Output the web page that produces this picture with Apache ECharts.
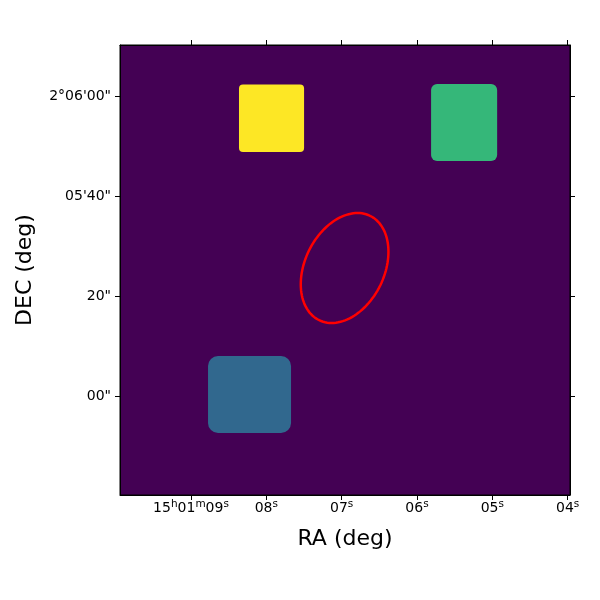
<!DOCTYPE html>
<html>
<head>
<meta charset="utf-8">
<script src="https://cdn.jsdelivr.net/npm/echarts@6/dist/echarts.min.js"></script>
<style>
html,body{margin:0;padding:0;background:#fff;}
#chart{width:600px;height:600px;}
</style>
</head>
<body>
<div id="chart"></div>
<script>
// RA in seconds of 15h01m, DEC in arcsec offset from +2°05'00"
var raTicks = [9, 8, 7, 6, 5, 4];
var raTickLabels = ['{n|15}{s|h}{n|01}{s|m}{n|09}{s|s}', '{n|08}{s|s}', '{n|07}{s|s}', '{n|06}{s|s}', '{n|05}{s|s}', '{n|04}{s|s}'];
var decTicks = [0, 20, 40, 60];
var decTickLabels = ['00"', '20"', '05\'40"', '2\u00b006\'00"'];

// sources: RA (s) east edge, west edge, DEC (") south edge, north edge, pixel value
var srcRaEast  = [8.363, 5.813, 8.774];
var srcRaWest  = [7.499, 4.936, 7.672];
var srcDecSouth = [48.8, 47.0, -7.4];
var srcDecNorth = [62.3, 62.4, 8.0];
var srcValue   = [1.0, 0.7, 0.35];

// ellipse region: center RA (s), DEC ("), semi-major ("), semi-minor ("), PA (deg, N through E)
var ellCenter = [6.961, 25.6];
var ellAxes = [11.6, 7.9];
var ellPA = -25.8;

var decDeg = 2.0833;
var srcColors = {1.0: '#fde725', 0.7: '#35b779', 0.35: '#31688e'};
var srcCorner = [4, 6, 10];

var chart = echarts.init(document.getElementById('chart'), null, {renderer: 'canvas'});

var srcData = srcValue.map(function (v, i) {
  return [srcRaEast[i], srcRaWest[i], srcDecSouth[i], srcDecNorth[i], v, i];
});

var font = 'DejaVu Sans';
function axisCommon(showLabel, labelArr, ticks) {
  return {
    type: 'value',
    axisLine: {show: true, onZero: false, lineStyle: {color: '#000', width: 1}},
    axisTick: {show: true, inside: false, length: 5, customValues: ticks, lineStyle: {color: '#000', width: 1}},
    axisLabel: {
      show: showLabel, customValues: ticks, color: '#000', fontFamily: font, fontSize: 14,
      formatter: function (val) {
        var idx = ticks.indexOf(Math.round(val));
        return idx >= 0 ? labelArr[idx] : '';
      }
    },
    splitLine: {show: false}
  };
}

var xBottom = Object.assign(axisCommon(true, raTickLabels, raTicks), {
  position: 'bottom', min: 3.969, max: 9.9425, inverse: true,
  name: 'RA (deg)', nameLocation: 'middle', nameGap: 33,
  nameTextStyle: {fontFamily: font, fontSize: 22, color: '#000'}
});
xBottom.axisLabel.margin = 6;
xBottom.axisLabel.rich = {
  n: {fontFamily: font, fontSize: 14, lineHeight: 14, color: '#000', verticalAlign: 'bottom'},
  s: {fontFamily: font, fontSize: 10.5, lineHeight: 10.5, color: '#000', verticalAlign: 'bottom', padding: [0, 0, 5, 0]}
};
var xTop = Object.assign(axisCommon(false, raTickLabels, raTicks), {
  position: 'top', min: 3.969, max: 9.9425, inverse: true
});
var yLeft = Object.assign(axisCommon(true, decTickLabels, decTicks), {
  position: 'left', min: -19.8, max: 70.2,
  name: 'DEC (deg)', nameLocation: 'middle', nameGap: 84,
  nameTextStyle: {fontFamily: font, fontSize: 22, color: '#000'}
});
yLeft.axisLabel.margin = 9;
var yRight = Object.assign(axisCommon(false, decTickLabels, decTicks), {
  position: 'right', min: -19.8, max: 70.2
});

var option = {
  animation: false,
  grid: {left: 120, top: 45, width: 450, height: 450, show: true,
         backgroundColor: '#440154', borderColor: '#000', borderWidth: 1},
  xAxis: [xBottom, xTop],
  yAxis: [yLeft, yRight],
  series: [
    {
      type: 'custom',
      xAxisIndex: 0, yAxisIndex: 0,
      data: srcData,
      renderItem: function (params, api) {
        var p1 = api.coord([api.value(0), api.value(3)]);
        var p2 = api.coord([api.value(1), api.value(2)]);
        var i = api.value(5);
        return {
          type: 'rect',
          shape: {x: p1[0], y: p1[1], width: p2[0] - p1[0], height: p2[1] - p1[1], r: srcCorner[i]},
          style: {fill: srcColors[api.value(4)]}
        };
      },
      z: 2
    },
    {
      type: 'custom',
      xAxisIndex: 0, yAxisIndex: 0,
      data: [[ellCenter[0], ellCenter[1], ellAxes[0], ellAxes[1], ellPA]],
      renderItem: function (params, api) {
        var cx = api.value(0), cy = api.value(1), a = api.value(2), b = api.value(3);
        var pa = api.value(4) * Math.PI / 180;
        var u = [Math.sin(pa), Math.cos(pa)];   // major axis (east, north)
        var v = [Math.cos(pa), -Math.sin(pa)];  // minor axis
        var cosd = Math.cos(decDeg * Math.PI / 180);
        var pts = [];
        for (var k = 0; k <= 120; k++) {
          var t = k / 120 * 2 * Math.PI;
          var e = a * Math.cos(t) * u[0] + b * Math.sin(t) * v[0];
          var n = a * Math.cos(t) * u[1] + b * Math.sin(t) * v[1];
          pts.push(api.coord([cx + e / (15 * cosd), cy + n]));
        }
        return {
          type: 'polyline',
          shape: {points: pts},
          style: {stroke: '#ff0000', lineWidth: 2.5, fill: null}
        };
      },
      z: 3
    }
  ]
};
chart.setOption(option);
</script>
</body>
</html>
